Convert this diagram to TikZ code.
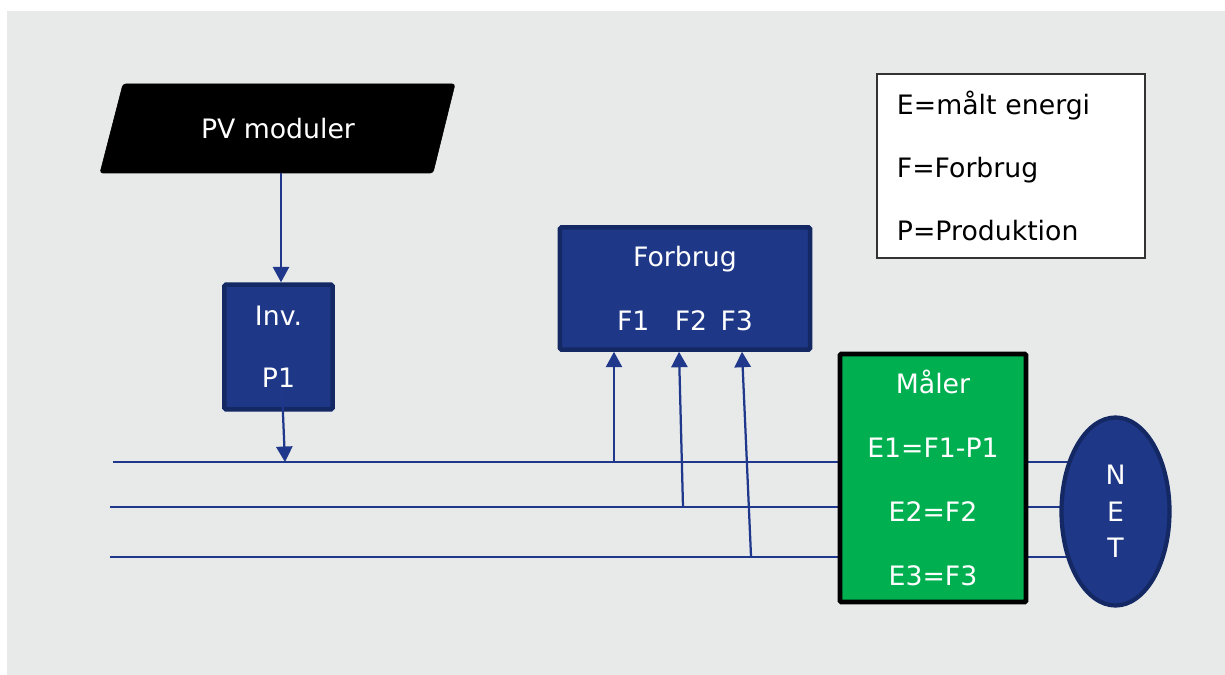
\documentclass[tikz,border=0pt]{standalone}
\usepackage{fontspec}
\setmainfont{DejaVu Sans}
\usetikzlibrary{shapes.geometric, arrows.meta, positioning, calc, backgrounds}

\definecolor{bggray}{RGB}{232,234,234}
\definecolor{boxblue}{RGB}{30,55,135}
\definecolor{edgeblue}{RGB}{20,40,100}
\definecolor{wireblue}{RGB}{32,56,140}
\definecolor{malergreen}{RGB}{0,176,80}

\begin{document}
\begin{tikzpicture}[x=0.025cm, y=-0.025cm, font=\fontsize{19}{23}\selectfont,
  wire/.style={draw=wireblue, line width=1.6pt},
  feed/.style={wire, -{Triangle[width=11.5pt, length=11pt]}},
  bluebox/.style={rectangle, fill=boxblue, draw=edgeblue, line width=3.2pt, text=white, align=center, rounded corners=1pt}]

  \useasboundingbox (0,0) rectangle (1225,675);

  % Units
  \filldraw[black, rounded corners=2pt] (123,84) -- (455,84) -- (433,173) -- (100,173) -- cycle;
  \node[text=white, minimum width=8.3cm, minimum height=2.225cm] (pv) at (278,128.5) {PV moduler};
  \node[bluebox, minimum width=2.7cm, minimum height=3.12cm, font=\fontsize{19}{44}\selectfont] (inv) at (278.5,347) {Inv.\\P1};
  \node[bluebox, minimum width=6.25cm, minimum height=3.05cm, font=\fontsize{19}{46}\selectfont] (forbrug) at (685,288.5) {Forbrug\\F1\hspace{0.95em}F2\hspace{0.5em}F3};
  \node[rectangle, fill=malergreen, draw=black, line width=3.5pt, rounded corners=1pt, text=white, align=center,
        minimum width=4.65cm, minimum height=6.2cm, font=\fontsize{19}{45.5}\selectfont] (maler) at (933,478) {Måler\\E1=F1-P1\\E2=F2\\E3=F3};
  \node[ellipse, fill=boxblue, draw=edgeblue, line width=3pt, text=white, align=center, inner sep=0pt,
        minimum width=2.7cm, minimum height=4.7cm, font=\fontsize{19}{26}\selectfont] (net) at (1115.5,511.5) {N\\E\\T};

  % Legend
  \node[rectangle, fill=white, draw=black!80, line width=0.8pt, align=left, text width=5.7cm, inner xsep=0.5cm,
        minimum height=4.6cm, font=\fontsize{19}{45}\selectfont] (legend) at (1011,166) {E=målt energi\\F=Forbrug\\P=Produktion};

  % Phases
  \coordinate (l1) at (113,462);
  \coordinate (l2) at (110,507);
  \coordinate (l3) at (110,557);
  \begin{scope}[on background layer]
    \fill[bggray] (7,11) rectangle (1225,675);
    \draw[wire] (l1) -- (l1 -| net.center);
    \draw[wire] (l2) -- (l2 -| net.center);
    \draw[wire] (l3) -- (l3 -| net.center);
  \end{scope}

  % Flows
  \coordinate (p1) at (282,390);
  \coordinate (p1in) at (285,462);
  \coordinate (f1) at (614,462);
  \coordinate (f2) at (683,507);
  \coordinate (f3) at (751,556);
  \draw[feed] (pv.south -| 281,0) -- (inv.north -| 281,0);
  \draw[feed] (p1) -- (p1in);
  \draw[feed] (f1) -- (f1 |- forbrug.south);
  \draw[feed] (f2) -- ($(forbrug.south)+(-6,0)$);
  \draw[feed] (f3) -- ($(forbrug.south)+(57,0)$);
\end{tikzpicture}
\end{document}
